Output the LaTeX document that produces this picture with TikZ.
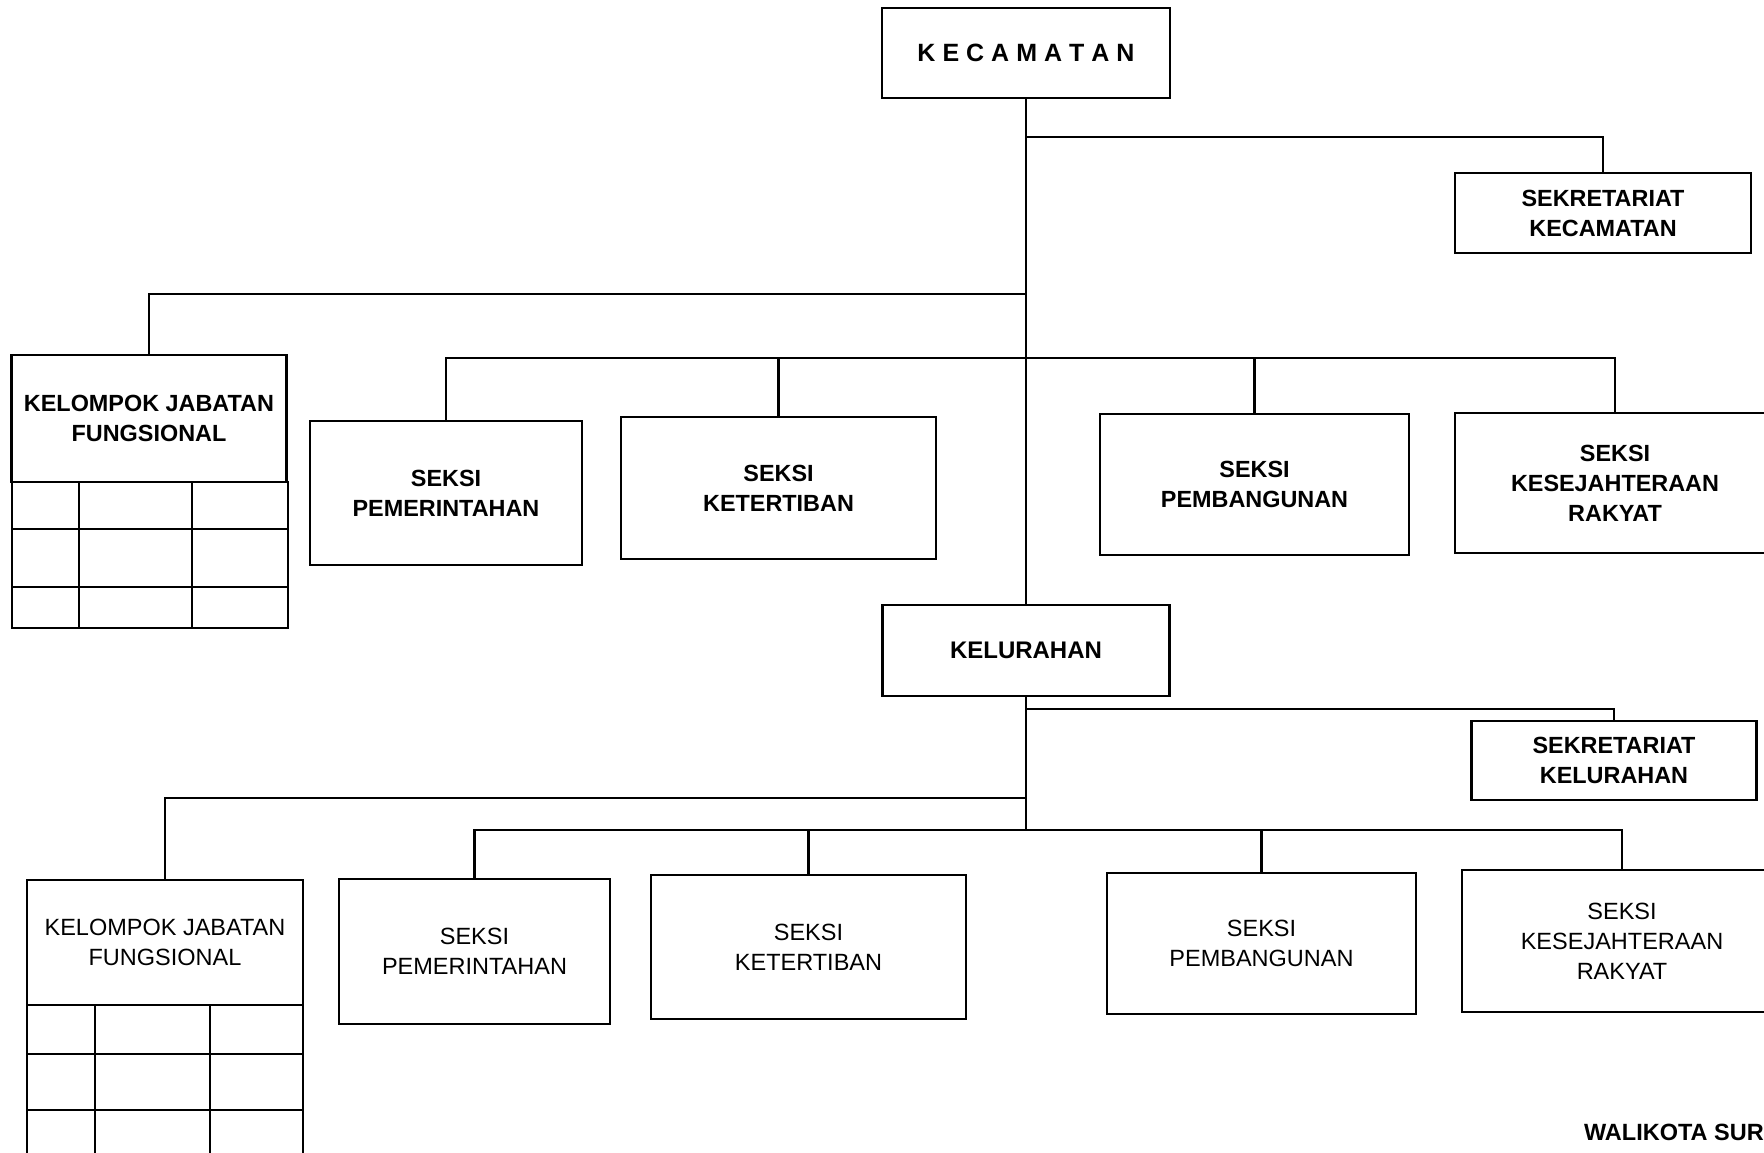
\documentclass[tikz,border=0pt]{standalone}
\usepackage{fontspec}
\setmainfont{Liberation Sans}
\begin{document}
\begin{tikzpicture}[x=1pt,y=-1pt,
  line width=2.5pt,
  box/.style={draw, rectangle, align=center, inner sep=0pt},
  bt/.style={font=\fontsize{23.4}{30}\selectfont\bfseries},
  rt/.style={font=\fontsize{23.5}{30}\selectfont},
  conn/.style={line width=2.5pt}]
\useasboundingbox (0,0) rectangle (1764,1152);
\clip (0,0) rectangle (1764,1152);
% ---- upper level
\node[box,bt,minimum width=288pt,minimum height=90pt] (kec) at (1026,53)
  {\fontsize{25}{30}\selectfont K\kern7pt E\kern7pt C\kern7pt A\kern7pt M\kern7pt A\kern7pt T\kern7pt A\kern7pt N};
\node[box,bt,minimum width=296pt,minimum height=80pt] (sekkec) at (1603,213) {SEKRETARIAT\\KECAMATAN};
\node[box,bt,minimum width=275pt,minimum height=127pt] (kjf) at (149,418.5) {KELOMPOK JABATAN\\FUNGSIONAL};
\node[box,bt,minimum width=272pt,minimum height=144pt] (sp) at (446,493) {SEKSI\\PEMERINTAHAN};
\node[box,bt,minimum width=315pt,minimum height=142pt] (sk) at (778.5,488) {SEKSI\\KETERTIBAN};
\node[box,bt,minimum width=309pt,minimum height=141pt] (sb) at (1254.5,484.5) {SEKSI\\PEMBANGUNAN};
\node[box,bt,minimum width=320pt,minimum height=140pt] (sr) at (1615,483) {SEKSI\\KESEJAHTERAAN\\RAKYAT};
% table under upper KJF
\draw (12,482) rectangle (288,628);
\draw (12,529) -- (288,529) (12,587) -- (288,587);
\draw (79,482) -- (79,628) (192,482) -- (192,628);
% ---- kelurahan level
\node[box,bt,minimum width=287pt,minimum height=91pt] (kel) at (1026,650.5) {\fontsize{24}{30}\selectfont KELURAHAN};
\node[box,bt,minimum width=285pt,minimum height=79pt] (sekkel) at (1614,760.5) {SEKRETARIAT\\KELURAHAN};
\node[box,rt,minimum width=276pt,minimum height=125pt] (kjf2) at (165,942.5) {KELOMPOK JABATAN\\FUNGSIONAL};
\node[box,rt,minimum width=271pt,minimum height=145pt] (sp2) at (474.5,951.5) {SEKSI\\PEMERINTAHAN};
\node[box,rt,minimum width=315pt,minimum height=144pt] (sk2) at (808.5,947) {SEKSI\\KETERTIBAN};
\node[box,rt,minimum width=309pt,minimum height=141pt] (sb2) at (1261.5,943.5) {SEKSI\\PEMBANGUNAN};
\node[box,rt,minimum width=320pt,minimum height=142pt] (sr2) at (1622,941) {SEKSI\\KESEJAHTERAAN\\RAKYAT};
% table under lower KJF
\draw (27,1005) -- (27,1160) (303,1005) -- (303,1160);
\draw (27,1054) -- (303,1054) (27,1110) -- (303,1110);
\draw (95,1005) -- (95,1160) (210,1005) -- (210,1160);
% ---- connectors upper
\coordinate (ja) at (1026,137);
\coordinate (jb) at (1026,294);
\coordinate (jc) at (1026,358);
\draw[conn] (kec.south) -- (kel.north);
\draw[conn] (ja) -| (sekkec.north);
\draw[conn] (jb) -| (kjf.north);
\draw[conn] (sp.north) |- (jc) -| (sr.north);
\draw[conn] (jc) -| (sk.north);
\draw[conn] (jc) -| (sb.north);
% ---- connectors lower
\coordinate (jd) at (1026,709);
\coordinate (je) at (1026,798);
\coordinate (jf) at (1026,830);
\draw[conn] (kel.south) -- (jf);
\draw[conn] (jd) -| (sekkel.north);
\draw[conn] (je) -| (kjf2.north);
\draw[conn] (sp2.north) |- (jf) -| (sr2.north);
\draw[conn] (jf) -| (sk2.north);
\draw[conn] (jf) -| (sb2.north);
% ---- footer
\node[anchor=base east,inner sep=0pt,font=\fontsize{23.5}{26}\selectfont\bfseries] (wali) at (1765,1140) {WALIKOTA SUR};
\end{tikzpicture}
\end{document}
